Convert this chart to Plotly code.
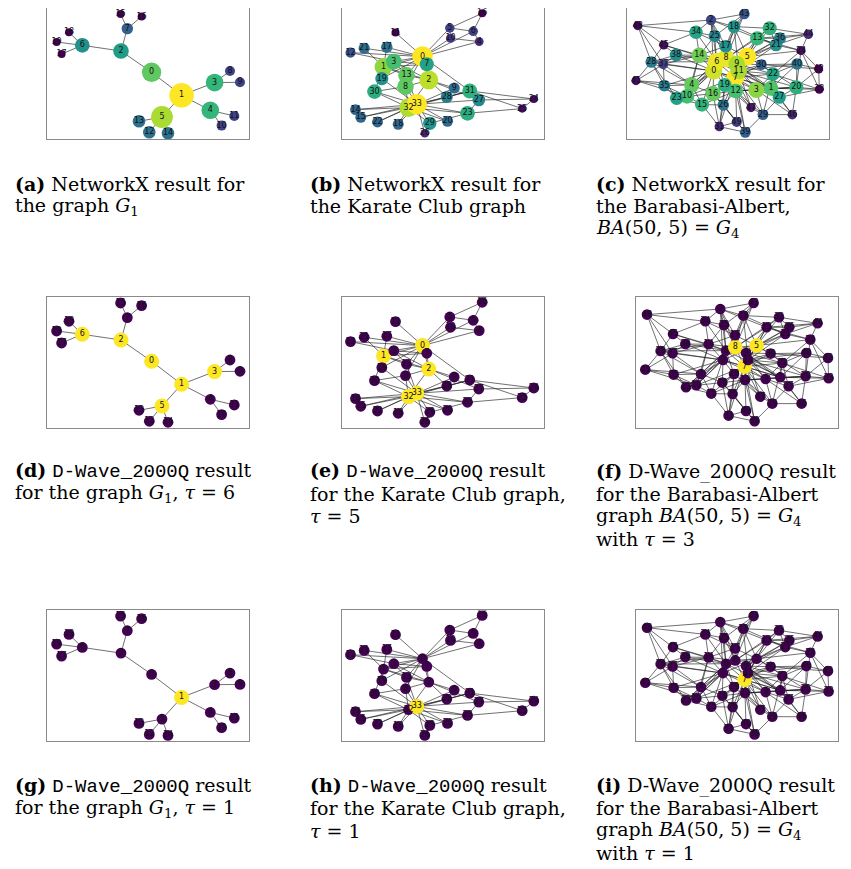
import plotly.graph_objects as go

# ---------------- data: graph G1 (tree with 20 nodes) ----------------
G1_X = [104.3, 134.3, 73.7, 167.3, 163.0, 114.7, 35.0, 80.0, 182.7, 192.7,
        174.3, 187.0, 102.0, 91.7, 120.7, 73.3, 94.3, 14.3, 21.7, 9.3]
G1_Y = [64.0, 87.0, 42.7, 74.3, 102.0, 108.7, 37.0, 20.3, 62.7, 74.0,
        117.3, 107.7, 124.0, 113.0, 125.0, 5.7, 8.3, 45.7, 24.0, 33.7]
G1_EDGES = [(0, 1), (0, 2), (1, 3), (1, 4), (1, 5), (2, 6), (2, 7), (3, 8), (3, 9),
            (4, 10), (4, 11), (5, 12), (5, 13), (5, 14), (6, 17), (6, 18), (6, 19),
            (7, 15), (7, 16)]
G1_SCORE = [0.75, 1.0, 0.55, 0.66, 0.66, 0.87, 0.5, 0.3, 0.2, 0.2,
            0.2, 0.2, 0.37, 0.37, 0.37, 0.0, 0.0, 0.0, 0.0, 0.0]

# ---------------- data: Karate Club graph ----------------
KC_X = [81.0, 42.0, 87.3, 52.3, 137.7, 108.3, 131.7, 85.3, 64.0, 112.7,
        109.0, 54.0, 9.0, 65.0, 14.0, 19.3, 140.7, 45.3, 56.7, 40.3,
        106.0, 22.7, 36.0, 126.0, 192.3, 180.7, 83.3, 137.3, 105.3, 88.3,
        33.0, 128.3, 67.0, 75.3]
KC_Y = [48.3, 58.7, 71.7, 53.3, 33.3, 19.7, 23.0, 56.0, 78.3, 79.7,
        30.0, 24.3, 44.3, 67.0, 101.3, 109.0, 5.0, 39.0, 116.0, 70.3,
        113.0, 40.0, 113.7, 105.0, 90.7, 100.3, 125.0, 91.7, 88.7, 115.0,
        83.3, 82.7, 99.3, 96.0]
KC_ADJ = {0: [1, 2, 3, 4, 5, 6, 7, 8, 10, 11, 12, 13, 17, 19, 21, 31],
          1: [2, 3, 7, 13, 17, 19, 21, 30], 2: [3, 7, 8, 9, 13, 27, 28, 32],
          3: [7, 12, 13], 4: [6, 10], 5: [6, 10, 16], 6: [16], 8: [30, 32, 33],
          9: [33], 13: [33], 14: [32, 33], 15: [32, 33], 18: [32, 33], 19: [33],
          20: [32, 33], 22: [32, 33], 23: [25, 27, 29, 32, 33], 24: [25, 27, 31],
          25: [31], 26: [29, 33], 27: [33], 28: [31, 33], 29: [32, 33],
          30: [32, 33], 31: [32, 33], 32: [33]}
KC_SCORE = [1.0, 0.83, 0.9, 0.7, 0.12, 0.2, 0.2, 0.57, 0.75, 0.35,
            0.15, 0.0, 0.25, 0.75, 0.32, 0.33, 0.0, 0.37, 0.33, 0.5,
            0.34, 0.35, 0.33, 0.62, 0.03, 0.03, 0.1, 0.47, 0.42, 0.52,
            0.62, 0.64, 0.88, 1.0]

# ---------------- data: Barabasi-Albert BA(50,5) ----------------
BA_X = [86.7, 144.0, 84.0, 129.3, 64.7, 120.3, 89.7, 108.3, 99.0, 109.7,
        60.0, 111.7, 108.7, 130.3, 72.3, 75.0, 86.0, 98.7, 107.0, 97.7,
        169.3, 149.0, 146.0, 49.7, 174.0, 87.7, 96.3, 152.3, 24.3, 136.0,
        134.3, 92.3, 142.7, 192.3, 69.0, 37.3, 153.0, 36.3, 49.0, 118.3,
        170.0, 9.0, 191.7, 117.3, 181.3, 36.7, 165.3, 124.0, 10.7, 109.7]
BA_Y = [62.7, 80.0, 11.7, 81.7, 76.7, 48.3, 53.3, 69.3, 50.0, 55.7,
        88.0, 62.7, 82.7, 30.0, 47.0, 96.3, 85.3, 38.0, 18.3, 76.7,
        79.0, 36.7, 65.7, 90.0, 42.3, 27.7, 96.7, 89.0, 53.7, 106.3,
        56.3, 118.3, 20.0, 81.0, 24.0, 77.3, 30.0, 56.0, 46.7, 124.0,
        55.7, 72.3, 60.7, 5.7, 26.0, 36.7, 106.3, 99.3, 17.3, 113.7]
BA_ADJ = {1: [0], 2: [0], 3: [0], 4: [0], 5: [0],
          6: [0, 1, 2, 4, 5], 7: [0, 1, 3, 5, 6], 8: [0, 2, 5, 6, 7],
          9: [1, 3, 5, 7, 8], 10: [0, 4, 6, 7, 8], 11: [1, 3, 5, 7, 9],
          12: [1, 3, 7, 9, 11], 13: [2, 5, 8, 9, 11], 14: [0, 4, 6, 8, 10],
          15: [4, 6, 7, 10, 12], 16: [0, 4, 7, 10, 12], 17: [2, 5, 6, 8, 14],
          18: [2, 5, 8, 11, 17], 19: [0, 6, 7, 11, 16], 20: [1, 3, 5, 11, 12],
          21: [5, 9, 11, 13, 18], 22: [1, 3, 7, 9, 11], 23: [0, 4, 6, 10, 15],
          24: [5, 13, 20, 21, 22], 25: [2, 6, 8, 14, 17], 26: [7, 12, 15, 16, 19],
          27: [1, 3, 9, 20, 22], 28: [0, 4, 6, 14, 23], 29: [3, 7, 12, 22, 27],
          30: [5, 7, 9, 11, 22], 31: [7, 15, 16, 19, 26], 32: [5, 8, 13, 18, 21],
          33: [1, 20, 22, 24, 27], 34: [2, 6, 14, 17, 25], 35: [0, 4, 10, 23, 28],
          36: [5, 9, 13, 21, 32], 37: [0, 4, 14, 28, 35], 38: [0, 6, 14, 28, 37],
          39: [7, 12, 26, 29, 31], 40: [1, 11, 20, 22, 30], 41: [4, 10, 28, 35, 37],
          42: [20, 24, 30, 33, 40], 43: [2, 8, 17, 18, 25], 44: [13, 21, 24, 32, 36],
          45: [6, 14, 28, 34, 38], 46: [1, 3, 20, 27, 29], 47: [7, 11, 12, 19, 29],
          48: [2, 28, 34, 37, 45], 49: [12, 16, 26, 31, 39]}
BA_SCORE = [0.93, 0.72, 0.22, 0.82, 0.76, 1.0, 0.97, 1.0, 0.97, 0.87,
            0.7, 0.87, 0.7, 0.67, 0.78, 0.65, 0.76, 0.5, 0.52, 0.62,
            0.63, 0.5, 0.58, 0.57, 0.04, 0.45, 0.37, 0.55, 0.4, 0.3,
            0.3, 0.1, 0.64, 0.0, 0.58, 0.42, 0.43, 0.18, 0.48, 0.3,
            0.37, 0.03, 0.0, 0.27, 0.12, 0.04, 0.12, 0.06, 0.02, 0.18]

# ---------------- D-Wave selections ----------------
SEL_D = [0, 1, 2, 3, 5, 6]
SEL_E = [0, 1, 2, 32, 33]
SEL_F = [5, 7, 8]
SEL_G = [1]
SEL_H = [33]
SEL_I = [7]


def TT(s):
    return '<span style="font-family:Liberation Mono">' + s + '</span>'


G1TXT = "<i>G</i><sub>1</sub>"
G4TXT = "<i>G</i><sub>4</sub>"
BATXT = "<i>BA</i>(50, 5) = " + G4TXT

CAPTIONS = {
    'a': ["<b>(a)</b> NetworkX result for", "the graph " + G1TXT],
    'b': ["<b>(b)</b> NetworkX result for", "the Karate Club graph"],
    'c': ["<b>(c)</b> NetworkX result for", "the Barabasi-Albert,", BATXT],
    'd': ["<b>(d)</b> " + TT("D-Wave_2000Q") + " result",
          "for the graph " + G1TXT + ", <i>τ</i> = 6"],
    'e': ["<b>(e)</b> " + TT("D-Wave_2000Q") + " result",
          "for the Karate Club graph,", "<i>τ</i> = 5"],
    'f': ["<b>(f)</b> D-Wave_2000Q result", "for the Barabasi-Albert",
          "graph " + BATXT, "with <i>τ</i> = 3"],
    'g': ["<b>(g)</b> " + TT("D-Wave_2000Q") + " result",
          "for the graph " + G1TXT + ", <i>τ</i> = 1"],
    'h': ["<b>(h)</b> " + TT("D-Wave_2000Q") + " result",
          "for the Karate Club graph,", "<i>τ</i> = 1"],
    'i': ["<b>(i)</b> D-Wave_2000Q result", "for the Barabasi-Albert",
          "graph " + BATXT, "with <i>τ</i> = 1"],
}

# ---------------- layout helpers ----------------
# the page body has an 8px margin, so the figure starts at (8, 8) of the window
PAGE_OFF = 8.0
FIG_W, FIG_H = 851 - 8, 869 - 8
COL_L = [47.3, 341.5, 627.0]
COL_L_LOWER = [47.3, 341.5, 636.3]
ROW_T = [8.3, 297.3, 610.4]
BOX_W, BOX_H = 202.0, 130.7
CAP_X = [12.5, 307.5, 593.5]
CAP_Y0 = [183.5, 471.0, 785.5]
CAP_DY = 22.6

VIRIDIS_Y = '#fde725'
VIRIDIS_P = '#440154'


def px_x(v):
    return (v - PAGE_OFF) / FIG_W


def px_y(v):
    return 1 - (v - PAGE_OFF) / FIG_H


def edge_list_from_adj(adj):
    out = []
    for a, bs in adj.items():
        for b in bs:
            out.append((a, b))
    return out


KC_EDGES = edge_list_from_adj(KC_ADJ)
BA_EDGES = edge_list_from_adj(BA_ADJ)

GRAPHS = {
    'G1': (G1_X, G1_Y, G1_EDGES, G1_SCORE, (8.0, 24.5)),
    'KC': (KC_X, KC_Y, KC_EDGES, KC_SCORE, (8.0, 20.5)),
    'BA': (BA_X, BA_Y, BA_EDGES, BA_SCORE, (9.0, 18.0)),
}

PANELS = [
    ('a', 'G1', None), ('b', 'KC', None), ('c', 'BA', None),
    ('d', 'G1', SEL_D), ('e', 'KC', SEL_E), ('f', 'BA', SEL_F),
    ('g', 'G1', SEL_G), ('h', 'KC', SEL_H), ('i', 'BA', SEL_I),
]

fig = go.Figure()
annotations = []
layout_axes = {}

for k, (key, gname, sel) in enumerate(PANELS):
    row, col = divmod(k, 3)
    idx = k + 1
    xs, ys, edges, score, (smin, smax) = GRAPHS[gname]
    left = (COL_L if row == 0 else COL_L_LOWER)[col]
    top = ROW_T[row]
    xa = 'x' if idx == 1 else 'x%d' % idx
    ya = 'y' if idx == 1 else 'y%d' % idx
    xname = 'xaxis' if idx == 1 else 'xaxis%d' % idx
    yname = 'yaxis' if idx == 1 else 'yaxis%d' % idx

    # edges
    ex, ey = [], []
    for a, b in edges:
        ex += [xs[a], xs[b], None]
        ey += [ys[a], ys[b], None]
    fig.add_trace(go.Scatter(x=ex, y=ey, mode='lines', xaxis=xa, yaxis=ya,
                             line=dict(color='rgba(30,30,30,0.75)', width=0.85),
                             hoverinfo='skip', showlegend=False))

    # nodes
    n = len(xs)
    if sel is None:
        colors = score
        sizes = [smin + (smax - smin) * (v ** 1.3) for v in score]
        marker = dict(color=colors, colorscale='Viridis', cmin=0, cmax=1,
                      size=sizes, opacity=1, line=dict(width=0))
    else:
        big = 15.0 if gname != 'BA' else 14.7
        small = 10.8 if gname != 'BA' else 10.6
        colors = [VIRIDIS_Y if i in sel else VIRIDIS_P for i in range(n)]
        sizes = [big if i in sel else small for i in range(n)]
        marker = dict(color=colors, size=sizes, opacity=1, line=dict(width=0))
    fig.add_trace(go.Scatter(x=xs, y=ys, mode='markers+text', xaxis=xa, yaxis=ya,
                             marker=marker, text=[str(i) for i in range(n)],
                             textposition='middle center',
                             textfont=dict(family='DejaVu Sans', size=8, color='#111111'),
                             hoverinfo='skip', showlegend=False))

    ax_common = dict(showline=True, mirror=True, linecolor='#8a8a8a', linewidth=1.2,
                     showgrid=False, zeroline=False, showticklabels=False,
                     ticks='', fixedrange=True)
    layout_axes[xname] = dict(domain=[px_x(left), px_x(left + BOX_W)],
                              range=[0, BOX_W], anchor=ya, **ax_common)
    layout_axes[yname] = dict(domain=[px_y(top + BOX_H), px_y(top)],
                              range=[BOX_H, 0], anchor=xa, **ax_common)

    # caption lines
    for j, line in enumerate(CAPTIONS[key]):
        ypx = CAP_Y0[row] + j * CAP_DY
        annotations.append(dict(text=line, xref='paper', yref='paper',
                                x=px_x(CAP_X[col]), y=px_y(ypx),
                                xanchor='left', yanchor='middle', showarrow=False,
                                font=dict(family='DejaVu Serif', size=19, color='black')))

fig.update_layout(width=FIG_W, height=FIG_H, margin=dict(l=0, r=0, t=0, b=0),
                  paper_bgcolor='white', plot_bgcolor='white', showlegend=False,
                  annotations=annotations, **layout_axes)

fig.write_html("out.html")
